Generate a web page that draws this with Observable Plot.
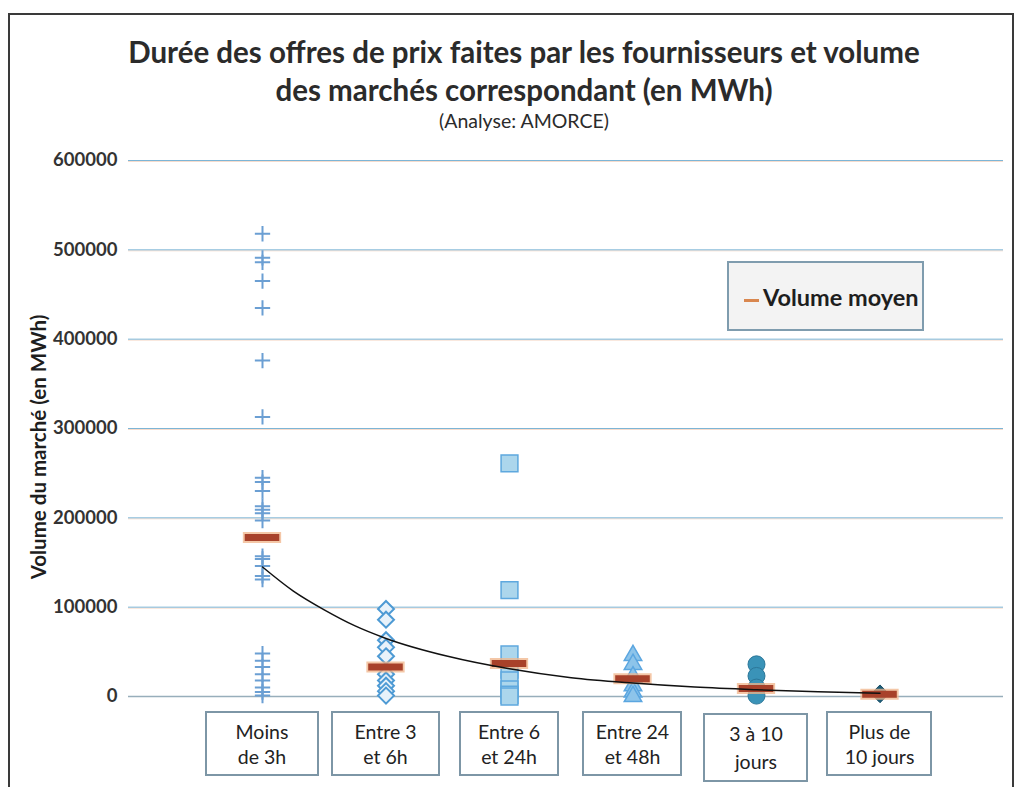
<!DOCTYPE html>
<html>
<head>
<meta charset="utf-8">
<script src="https://cdn.jsdelivr.net/npm/d3@7"></script>
<script src="https://cdn.jsdelivr.net/npm/@observablehq/plot@0.6"></script>
<style>
  body { margin: 0; background: #ffffff; font-family: Lato, "Open Sans", sans-serif; }
  #wrap { position: relative; width: 1020px; height: 787px; overflow: hidden; background: #fff; }
  #frame { position: absolute; left: 8px; top: 13px; width: 1002px; height: 800px; border: 2px solid #3a3a3a; }
  #title { position: absolute; left: 24px; top: 33px; width: 1000px; text-align: center; color: #2b2b2b; }
  #title .t { font-size: 29.5px; font-weight: bold; line-height: 38px; }
  #title .s { font-size: 19.5px; line-height: 24px; margin-top: 0px; }
  #ylab { position: absolute; left: 38px; top: 447px; transform: translate(-50%, -50%) rotate(-90deg); font-size: 20.5px; font-weight: bold; color: #1e1e1e; white-space: nowrap; }
  #chart { position: absolute; left: 0; top: 140px; }
  #legend { position: absolute; left: 727px; top: 261px; width: 193px; height: 66px; background: #f3f3f3; border: 2px solid #7f9cae; box-sizing: content-box; }
  #legend .sw { position: absolute; left: 15px; top: 36px; width: 15px; height: 3px; background: #d9874f; }
  #legend .lb { position: absolute; left: 34px; top: 20px; font-size: 23.5px; font-weight: bold; color: #1e1e1e; white-space: nowrap; }
  .xbox { position: absolute; border: 2px solid #7d96a6; background: #fff; text-align: center; font-size: 19.5px; line-height: 25px; color: #222; box-sizing: border-box; display: flex; flex-direction: column; justify-content: center; }
</style>
</head>
<body>
<div id="wrap">
  <div id="frame"></div>
  <div id="title">
    <div class="t">Durée des offres de prix faites par les fournisseurs et volume<br>des marchés correspondant (en MWh)</div>
    <div class="s">(Analyse: AMORCE)</div>
  </div>
  <div id="chart"></div>
  <div id="ylab">Volume du marché (en MWh)</div>
  <div id="legend"><div class="sw"></div><div class="lb">Volume moyen</div></div>
</div>
<script>
// ---- data ----
const categories = ["Moins de 3h", "Entre 3 et 6h", "Entre 6 et 24h", "Entre 24 et 48h", "3 à 10 jours", "Plus de 10 jours"];
const categoryLines = [["Moins", "de 3h"], ["Entre 3", "et 6h"], ["Entre 6", "et 24h"], ["Entre 24", "et 48h"], ["3 à 10", "jours"], ["Plus de", "10 jours"]];
const volMoins3h = [518000, 491000, 486000, 465000, 435000, 376000, 313000, 245000, 240000, 230000, 213000, 209000, 205000, 197000, 157000, 154000, 146000, 135000, 131000, 48000, 40000, 33000, 25000, 18000, 10000, 5000, 1000];
const vol3a6h = [98000, 86000, 63000, 55000, 45000, 25000, 18000, 12000, 6000, 1000];
const vol6a24h = [261000, 119000, 47000, 30000, 18000, 8000, 2000, 0];
const vol24a48h = [46000, 36000, 22000, 12000, 5000, 0];
const vol3a10j = [36000, 23000, 10000, 1000];
const volPlus10j = [3000];
const volumeMoyen = [178000, 33000, 37000, 20000, 9000, 2500];
const trendX = [1, 1.25, 1.5, 1.75, 2, 2.5, 3, 3.5, 4, 4.5, 5, 5.5, 6];
const trendY = [145000, 118000, 97000, 79000, 65000, 45000, 31000, 21000, 15000, 10500, 7500, 5200, 3700];
const yTicks = [0, 100000, 200000, 300000, 400000, 500000, 600000];

// ---- tables ----
const seriesList = [volMoins3h, vol3a6h, vol6a24h, vol24a48h, vol3a10j, volPlus10j];
const pts = seriesList.map((vals, i) => vals.map(v => ({x: i + 1, v})));
const means = volumeMoyen.map((v, i) => ({x: i + 1, v}));
const trend = trendX.map((x, i) => ({x, v: trendY[i]}));

const W = 1020, H = 647;
const plot = Plot.plot({
  width: W,
  height: H,
  marginTop: 20,
  marginBottom: 91,
  marginLeft: 128,
  marginRight: 17,
  style: {fontFamily: "Lato, 'Open Sans', sans-serif", fontSize: "18.5px", fontWeight: "bold", color: "#333", background: "transparent"},
  x: {domain: [-0.085, 7], axis: null},
  y: {domain: [0, 600000], ticks: yTicks, tickSize: 0, tickPadding: 11, tickFormat: d => String(d), label: null},
  marks: [
    Plot.ruleY(yTicks.slice(1), {stroke: "#f6dccd", strokeWidth: 1, dy: 1}),
    Plot.gridY(yTicks.slice(1), {stroke: "#7db5d6", strokeOpacity: 1, strokeWidth: 1}),
    Plot.ruleY([0], {stroke: "#98aebb", strokeWidth: 1.5}),
    Plot.dot(pts[0], {x: "x", y: "v", symbol: "plus", r: 5, stroke: "#6b9fd3", strokeWidth: 2}),
    Plot.dot(pts[1], {x: "x", y: "v", symbol: "diamond2", r: 7.2, stroke: "#4d9ad4", fill: "#e8f2fa", strokeWidth: 2}),
    Plot.dot(pts[2], {x: "x", y: "v", symbol: "square", r: 9.5, stroke: "#5ea8de", fill: "#acd6ec", strokeWidth: 1.5}),
    Plot.dot(pts[3], {x: "x", y: "v", symbol: "triangle", r: 6.5, stroke: "#5ba6e0", fill: "#8dc4ea", strokeWidth: 1.5}),
    Plot.dot(pts[4], {x: "x", y: "v", symbol: "circle", r: 8.5, stroke: "#2c7799", fill: "#3a93b8", strokeWidth: 1}),
    Plot.dot(pts[5], {x: "x", y: "v", symbol: "diamond2", r: 8, stroke: "#174d66", fill: "#1d5d78", strokeWidth: 1}),
    Plot.ruleY(means, {y: "v", x1: d => d.x - 0.155, x2: d => d.x + 0.155, stroke: "#f0b48a", strokeWidth: 11, strokeOpacity: 0.75}),
    Plot.ruleY(means, {y: "v", x1: d => d.x - 0.14, x2: d => d.x + 0.14, stroke: "#a8412a", strokeWidth: 7}),
    Plot.line(trend, {x: "x", y: "v", curve: "monotone-x", stroke: "#111", strokeWidth: 1.5})
  ]
});
document.getElementById("chart").appendChild(plot);

// category label boxes placed through the plot's x scale
const xs = plot.scale("x");
const wrap = document.getElementById("wrap");
categoryLines.forEach((lines, i) => {
  const cx = xs.apply(i + 1);
  const w = [114, 109, 100, 100, 105, 106][i];
  const tall = i === 4;
  const b = document.createElement("div");
  b.className = "xbox";
  b.style.left = (cx - w / 2) + "px";
  b.style.top = (tall ? 713 : 711) + "px";
  b.style.width = w + "px";
  b.style.height = (tall ? 69 : 65) + "px";
  b.innerHTML = lines.map(l => `<div>${l}</div>`).join("");
  if (tall) b.style.lineHeight = "28px";
  b.title = categories[i];
  wrap.appendChild(b);
});
</script>
</body>
</html>
